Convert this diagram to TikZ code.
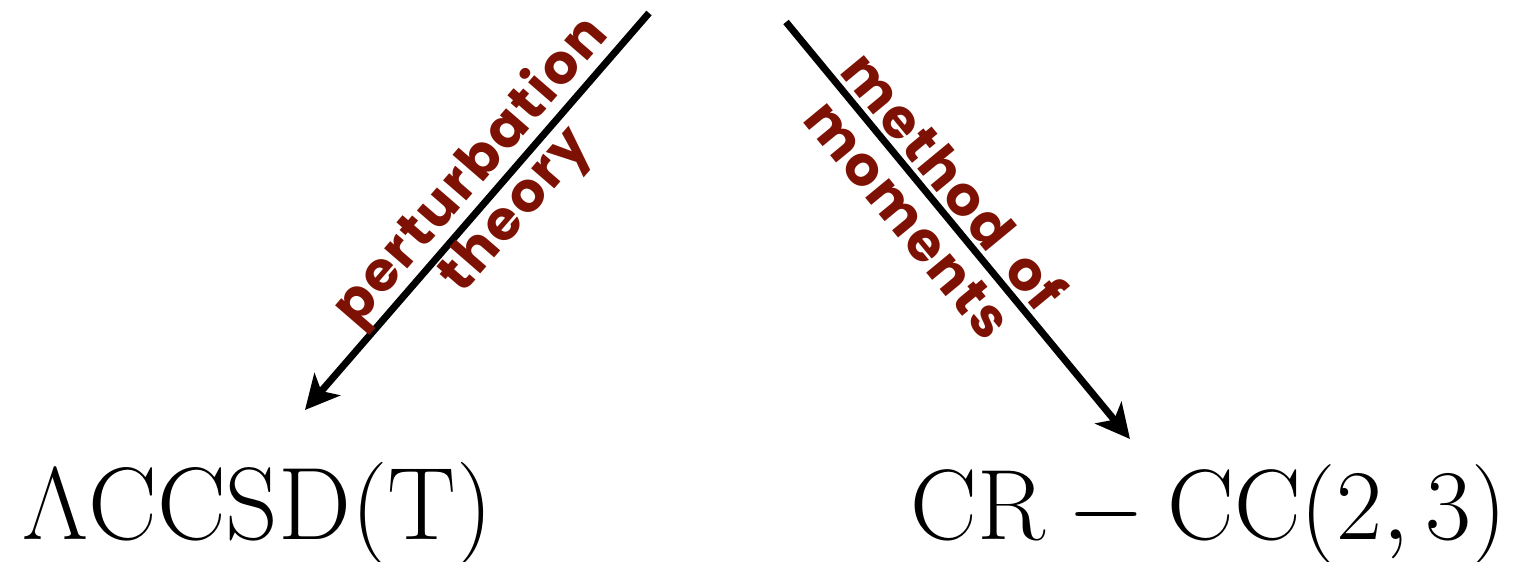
\RequirePackage{fix-cm}
\documentclass[tikz,border=0pt]{standalone}
\usepackage{fontspec}
\usetikzlibrary{arrows.meta}
\newfontfamily\labfont{Poppins}[UprightFont=* Bold,LetterSpace=4,WordSpace=1.6]
\definecolor{labred}{RGB}{125,18,4}
\begin{document}
\begin{tikzpicture}[x=1pt,y=-1pt,
  conn/.style={line width=7pt,-{Stealth[length=34pt,width=34pt,inset=9pt]}},
  lab/.style={font=\labfont\fontsize{55}{61}\selectfont,text=labred,align=center,sloped,inner sep=0pt},
  big/.style={font=\fontsize{100}{110}\selectfont,inner sep=0pt,anchor=base west}]
\useasboundingbox (0,0) rectangle (1518,562);
\node[big,font=\fontsize{103}{110}\selectfont] (lcc) at (22,539) {$\Lambda\mathrm{CCSD(T)}$};
\node[big] (crcc) at (910,539) {$\mathrm{CR-CC}(2,3)$};
\coordinate (ltop) at (649,13);
\coordinate (lend) at (305,410);
\coordinate (rtop) at (786,22);
\coordinate (rend) at (1130,439);
\draw[conn] (ltop) -- node[lab,pos=0.45] {perturbation\\[-2pt]theory} (lend);
\draw[conn] (rtop) -- node[lab,pos=0.425] {method of\\[-2pt]moments} (rend);
\end{tikzpicture}
\end{document}
